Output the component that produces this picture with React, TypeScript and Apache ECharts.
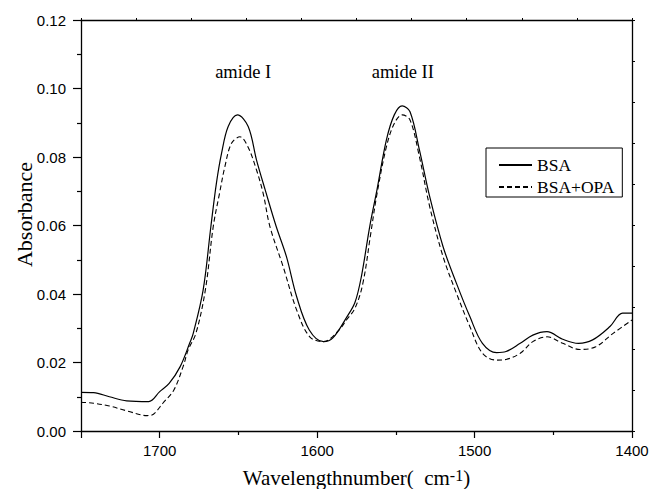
import React, { useEffect, useRef } from "react";
import * as echarts from "echarts";

// BSA (solid)
const bsaWave = [1750, 1742, 1732, 1721, 1707, 1700, 1694, 1687, 1681, 1678.7, 1672.4, 1667.5, 1664, 1660.7, 1656.5, 1650.6, 1643.8, 1638.5, 1633, 1626, 1619.5, 1613, 1605, 1596, 1590, 1581, 1576, 1571.9, 1566.6, 1562, 1556, 1551, 1546, 1541, 1535, 1528.5, 1520, 1511.5, 1503, 1495, 1486, 1480, 1471, 1463, 1454, 1444, 1434, 1425, 1414, 1406, 1400];
const bsaAbs = [0.0113, 0.0112, 0.0100, 0.0088, 0.0086, 0.0115, 0.0139, 0.0188, 0.0256, 0.0285, 0.0412, 0.0597, 0.0723, 0.0811, 0.0889, 0.0923, 0.0889, 0.0791, 0.0704, 0.0597, 0.0509, 0.0392, 0.0295, 0.0261, 0.0272, 0.0334, 0.0375, 0.0451, 0.0597, 0.0704, 0.085, 0.0923, 0.0949, 0.0932, 0.082, 0.0684, 0.0538, 0.0431, 0.0334, 0.0256, 0.0229, 0.0232, 0.0256, 0.028, 0.029, 0.0268, 0.0256, 0.0266, 0.0305, 0.0344, 0.0344];

// BSA+OPA (dashed)
const opaWave = [1750, 1742, 1732, 1721, 1708, 1704, 1698, 1691, 1685, 1682, 1677, 1671, 1666, 1662, 1658.6, 1654.4, 1649, 1644, 1638.5, 1634.3, 1630, 1621.6, 1613, 1604.7, 1596, 1586, 1581.4, 1576, 1571, 1566, 1562.3, 1556, 1551, 1546, 1541, 1535, 1528.5, 1520, 1511.5, 1503, 1495, 1486, 1480, 1471, 1463, 1454, 1444, 1433, 1423, 1412, 1400];
const opaAbs = [0.0084, 0.0081, 0.0073, 0.0059, 0.0045, 0.0049, 0.0081, 0.012, 0.019, 0.0236, 0.0285, 0.0412, 0.0597, 0.0694, 0.0772, 0.084, 0.0859, 0.083, 0.0762, 0.0694, 0.0597, 0.048, 0.0353, 0.0275, 0.0261, 0.0295, 0.0324, 0.0358, 0.043, 0.0575, 0.0684, 0.083, 0.0898, 0.0923, 0.0908, 0.080, 0.0655, 0.0509, 0.0402, 0.0305, 0.0227, 0.0207, 0.0209, 0.0227, 0.0261, 0.0275, 0.0256, 0.0238, 0.0246, 0.0285, 0.0324];

const seriesNames = ["BSA", "BSA+OPA"];
const annotations = [
  { name: "amide I", wave: 1647, abs: 0.1048 },
  { name: "amide II", wave: 1545.6, abs: 0.1048 },
];

const SERIF = "'Liberation Serif', 'Times New Roman', serif";
const SANS = "'Liberation Sans', Arial, sans-serif";

export default function App() {
  const ref = useRef<HTMLDivElement>(null);
  useEffect(() => {
    if (!ref.current) return;
    const chart = echarts.init(ref.current, undefined, { renderer: "svg" });
    const pair = (w: number[], a: number[]) => w.map((x, i) => [x, a[i]]);
    chart.setOption({
      animation: false,
      backgroundColor: "#fff",
      grid: { left: 81, right: 19, top: 20, bottom: 58, containLabel: false, outerBoundsMode: "none" },
      legend: {
        data: seriesNames,
        orient: "vertical",
        left: 486,
        top: 148,
        padding: [8, 8, 1, 12],
        itemWidth: 33,
        itemHeight: 14,
        itemGap: 4,
        borderColor: "#000",
        borderWidth: 1,
        borderRadius: 0,
        itemStyle: { opacity: 0 },
        textStyle: { fontFamily: SERIF, fontSize: 17.5, color: "#000", lineHeight: 18 },
      },
      xAxis: [
        {
          type: "value",
          min: 1400,
          max: 1750,
          interval: 100,
          inverse: true,
          position: "bottom",
          name: "Wavelengthnumber(  cm{sup|-1})",
          nameLocation: "middle",
          nameGap: 36,
          nameTextStyle: {
            fontFamily: SERIF,
            fontSize: 21,
            color: "#000",
            rich: {
              sup: { fontFamily: SERIF, fontSize: 16, color: "#000", verticalAlign: "top", lineHeight: 14 },
            },
          },
          axisLine: { show: true, onZero: false, lineStyle: { color: "#000", width: 1.3 } },
          axisTick: { show: true, inside: false, length: 7, lineStyle: { color: "#000", width: 1.2 } },
          minorTick: { show: true, splitNumber: 2, length: 4, lineStyle: { color: "#000", width: 1.2 } },
          splitLine: { show: false },
          axisLabel: {
            margin: 12,
            fontFamily: SANS,
            fontSize: 15,
            color: "#000",
            formatter: (v: number) => (v % 100 === 0 ? String(v) : ""),
          },
        },
        {
          type: "value",
          min: 0,
          max: 10,
          interval: 1,
          position: "top",
          axisLine: { show: true, onZero: false, lineStyle: { color: "#000", width: 1.3 } },
          axisTick: { show: true, inside: false, length: 2, lineStyle: { color: "#000", width: 1 } },
          axisLabel: { show: false },
          splitLine: { show: false },
        },
      ],
      yAxis: [
        {
          type: "value",
          min: 0,
          max: 0.12,
          interval: 0.02,
          position: "left",
          name: "Absorbance",
          nameLocation: "middle",
          nameGap: 46,
          nameMoveOverlap: false,
          nameTextStyle: { fontFamily: SERIF, fontSize: 22, color: "#000", padding: [0, 0, 0, 22] },
          axisLine: { show: true, onZero: false, lineStyle: { color: "#000", width: 1.3 } },
          axisTick: { show: true, inside: false, length: 8, lineStyle: { color: "#000", width: 1.2 } },
          minorTick: { show: true, splitNumber: 2, length: 4, lineStyle: { color: "#000", width: 1.2 } },
          splitLine: { show: false },
          axisLabel: {
            margin: 15,
            fontFamily: SANS,
            fontSize: 15,
            color: "#000",
            formatter: (v: number) => v.toFixed(2),
          },
        },
        {
          type: "value",
          min: 0,
          max: 10,
          interval: 1,
          position: "right",
          axisLine: { show: true, onZero: false, lineStyle: { color: "#000", width: 1.3 } },
          axisTick: { show: true, inside: false, length: 3, lineStyle: { color: "#000", width: 1 } },
          axisLabel: { show: false },
          splitLine: { show: false },
        },
      ],
      series: [
        {
          name: seriesNames[0],
          type: "line",
          xAxisIndex: 0,
          yAxisIndex: 0,
          data: pair(bsaWave, bsaAbs),
          smooth: 0.35,
          symbol: "none",
          lineStyle: { color: "#000", width: 1.2, type: "solid" },
          itemStyle: { color: "#000" },
          markPoint: {
            symbol: "circle",
            symbolSize: 0,
            label: {
              show: true,
              position: "inside",
              formatter: (p: any) => p.name,
              fontFamily: SERIF,
              fontSize: 18.5,
              color: "#000",
            },
            data: annotations.map((a) => ({ name: a.name, coord: [a.wave, a.abs] })),
          },
        },
        {
          name: seriesNames[1],
          type: "line",
          xAxisIndex: 0,
          yAxisIndex: 0,
          data: pair(opaWave, opaAbs),
          smooth: 0.35,
          symbol: "none",
          lineStyle: { color: "#000", width: 1.1, type: [5, 3] },
          itemStyle: { color: "#000" },
        },
      ],
    });
    return () => chart.dispose();
  }, []);
  return <div ref={ref} style={{ width: 651, height: 489, position: "absolute", left: 0, top: 0 }} />;
}
